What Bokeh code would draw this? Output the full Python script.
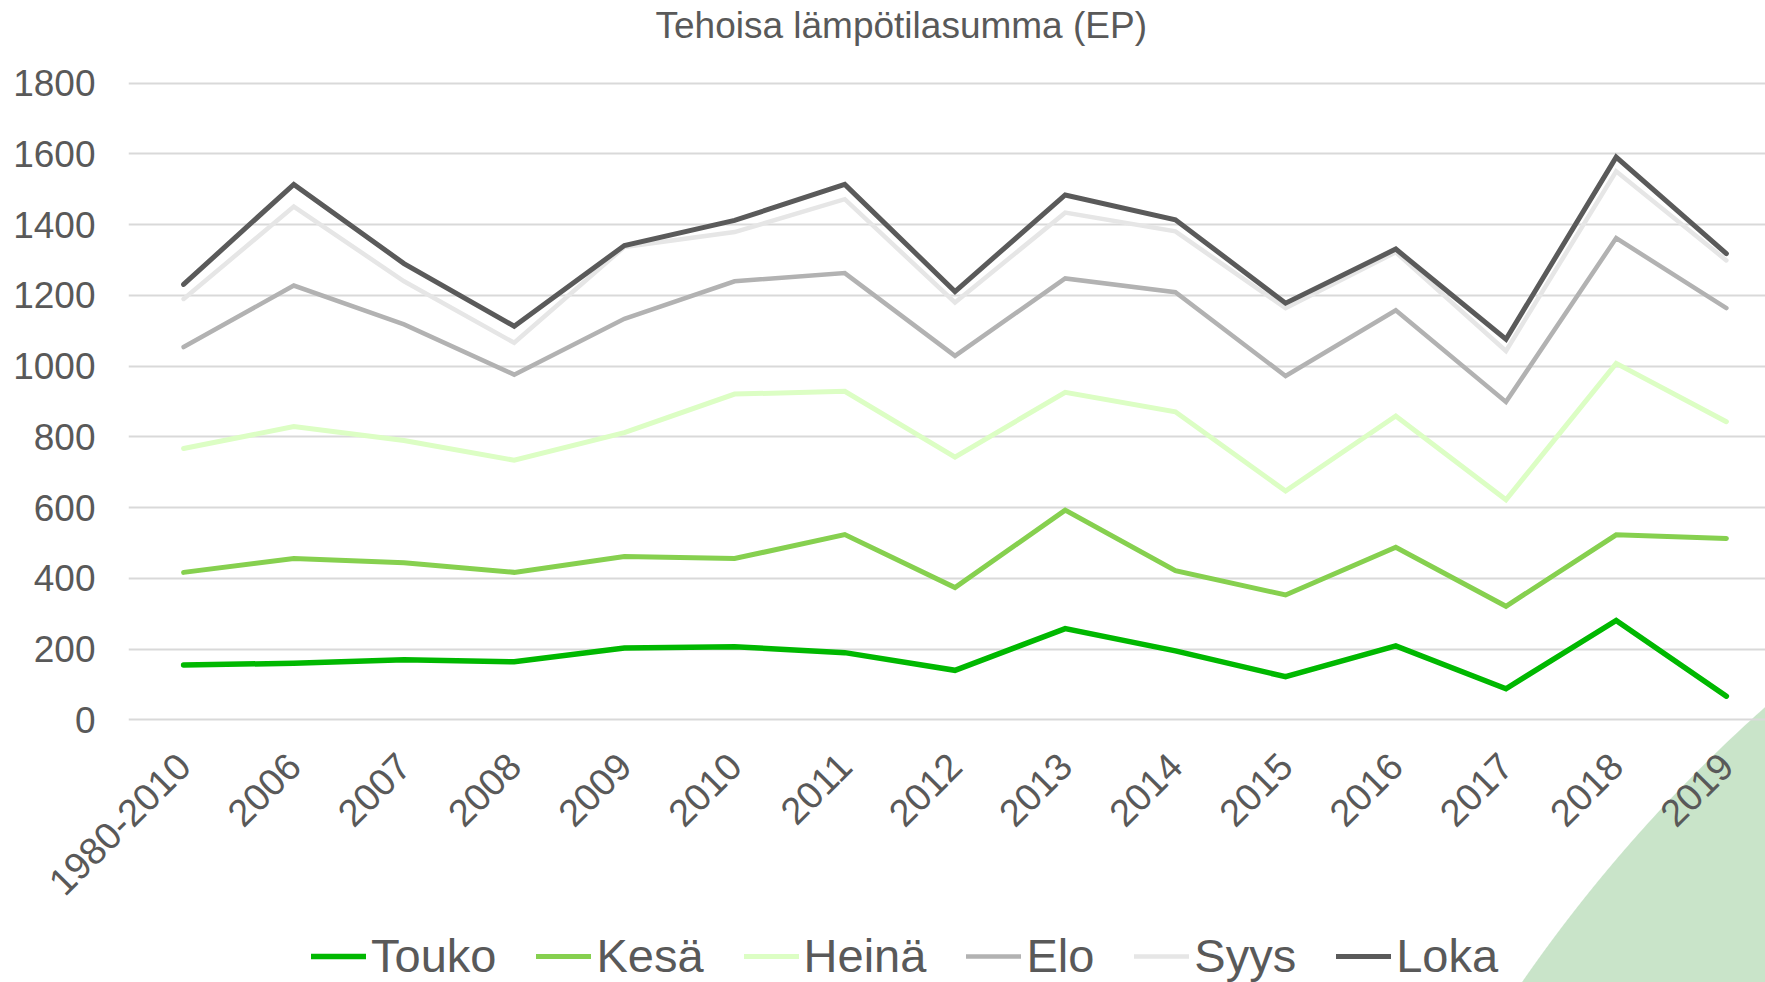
import math
from bokeh.plotting import figure
from bokeh.layouts import column
from bokeh.models import (Range1d, FixedTicker, Legend, LegendItem, Title, ColumnDataSource)
from bokeh.embed import file_html
from bokeh.resources import INLINE

# ---------------- data ----------------
categories = ["1980-2010", "2006", "2007", "2008", "2009", "2010", "2011", "2012",
              "2013", "2014", "2015", "2016", "2017", "2018", "2019"]

touko = [155, 160, 170, 164, 203, 207, 190, 140, 258, 195, 122, 209, 88, 281, 67]
kesa = [417, 456, 444, 417, 462, 456, 524, 374, 593, 422, 353, 488, 321, 523, 513]
heina = [767, 829, 790, 734, 812, 921, 929, 743, 926, 871, 647, 859, 622, 1008, 843]
elo = [1054, 1228, 1118, 976, 1134, 1240, 1263, 1029, 1248, 1209, 972, 1158, 899, 1362, 1164]
syys = [1190, 1451, 1240, 1066, 1337, 1379, 1472, 1180, 1434, 1381, 1164, 1322, 1043, 1551, 1299]
loka = [1231, 1514, 1290, 1113, 1341, 1412, 1514, 1211, 1484, 1414, 1178, 1331, 1076, 1591, 1318]

series_names = ["Touko", "Kesä", "Heinä", "Elo", "Syys", "Loka"]
series_values = [touko, kesa, heina, elo, syys, loka]
y_ticks = [0, 200, 400, 600, 800, 1000, 1200, 1400, 1600, 1800]
title_text = "Tehoisa lämpötilasumma (EP)"

# ---------------- styles ----------------
colors = ["#00B800", "#86D04F", "#DCFEC4", "#B2B2B2", "#E6E6E6", "#5A5A5A"]
widths = [5.5, 5, 5, 4.5, 4.5, 5]
FONT = "Liberation Sans"
TEXT = "#595959"

# decorative corner shape of the slide, drawn as the page background behind the canvases
corner_bg = ("radial-gradient(circle 1543px at 2791px 1859px, #C9E4C9 1542px, "
             "rgba(201,228,201,0) 1543px), #FFFFFF")

MAIN_H = 910
LEG_H = 982 - MAIN_H

p = figure(width=1765, height=MAIN_H, output_backend="svg", toolbar_location=None,
           x_range=Range1d(-0.5, 14.355), y_range=Range1d(-10.3, 1807.6),
           min_border_left=128, min_border_right=0, min_border_top=80,
           min_border_bottom=MAIN_H - 730, background_fill_alpha=0, border_fill_alpha=0)
p.outline_line_color = None

# spacer between frame and title (nearest to the frame), real title outermost
spacer = Title(text=" ", text_font_size="10px", text_font=FONT, standoff=22,
               text_color="#FFFFFF")
p.add_layout(spacer, "above")
p.title = Title(text=title_text, align="left", offset=527, text_font_size="37px",
                text_font=FONT, text_color=TEXT, text_font_style="normal", standoff=0)

# axes
p.yaxis.ticker = FixedTicker(ticks=y_ticks)
p.xaxis.ticker = FixedTicker(ticks=list(range(len(categories))))
p.xaxis.major_label_overrides = {i: c for i, c in enumerate(categories)}
p.xaxis.major_label_orientation = math.pi / 4
for ax in (p.xaxis, p.yaxis):
    ax.axis_line_color = None
    ax.major_tick_line_color = None
    ax.minor_tick_line_color = None
    ax.major_tick_out = 0
    ax.major_tick_in = 0
    ax.major_label_text_font = FONT
    ax.major_label_text_color = TEXT
p.yaxis.major_label_text_font_size = "37px"
p.xaxis.major_label_text_font_size = "38px"
p.yaxis.major_label_standoff = 33
p.xaxis.major_label_standoff = 36

p.xgrid.visible = False
p.ygrid.grid_line_color = "#D9D9D9"
p.ygrid.grid_line_width = 2

# legend strip below the chart (frame covers the whole strip so nothing is clipped)
pl = figure(width=1765, height=LEG_H, output_backend="svg", toolbar_location=None,
            x_range=Range1d(0, 1), y_range=Range1d(0, 1),
            x_axis_location=None, y_axis_location=None,
            min_border_left=0, min_border_right=0, min_border_top=0, min_border_bottom=0,
            background_fill_alpha=0, border_fill_alpha=0)
pl.outline_line_color = None
pl.xgrid.visible = False
pl.ygrid.visible = False

x_idx = list(range(len(categories)))
items = []
for name, vals, col, lw in zip(series_names, series_values, colors, widths):
    src = ColumnDataSource(dict(x=x_idx, y=vals))
    p.line("x", "y", source=src, line_color=col, line_width=lw,
           line_cap="round", line_join="miter")
    # same series in the legend strip (its data lie outside that strip's view)
    r = pl.line("x", "y", source=src, line_color=col, line_width=lw,
                line_cap="round", line_join="miter")
    items.append(LegendItem(label=name, renderers=[r]))

legend = Legend(items=items, orientation="horizontal", location=(183, -1),
                label_text_font=FONT, label_text_font_size="47px",
                label_text_color=TEXT, glyph_width=55, glyph_height=20,
                label_standoff=5, spacing=40, padding=0, margin=0,
                background_fill_alpha=0, border_line_color=None)
pl.add_layout(legend, "center")

layout = column(p, pl, spacing=0, styles={"background": corner_bg})
open("out.html", "w").write(file_html(layout, INLINE))
